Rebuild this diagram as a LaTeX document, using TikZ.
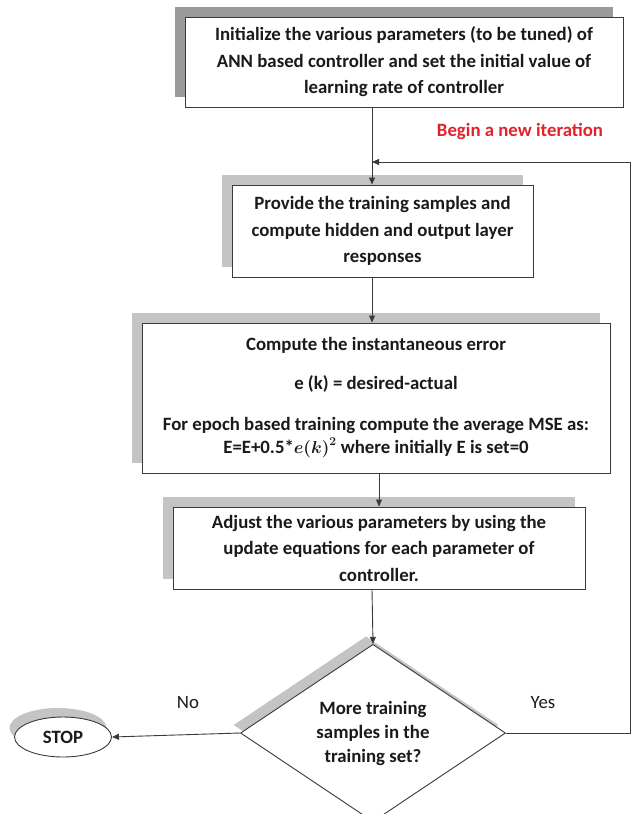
\documentclass[tikz,border=0pt]{standalone}
\usepackage{amsmath}
\usepackage{fontspec}
\setmainfont{Carlito}
\usetikzlibrary{arrows.meta,shapes.geometric,shadows}
\definecolor{fcline}{HTML}{3A3A3A}
\definecolor{fctext}{HTML}{1A1A1A}
\definecolor{fcshade}{HTML}{C4C4C4}
\definecolor{fcdark}{HTML}{9A9A9A}
\definecolor{fcred}{HTML}{E2222B}

\begin{document}
\begin{tikzpicture}[x=1pt,y=-1pt,
  box/.style={draw=fcline,line width=0.9pt,fill=white,align=center,inner sep=0pt,
    font=\fontsize{18.8}{26.5}\selectfont\bfseries,text=fctext,
    general shadow={fill=#1,shadow xshift=-10pt,shadow yshift=10pt}},
  box/.default=fcshade,
  decision/.style={diamond,draw=fcline,line width=0.9pt,fill=white,align=center,inner sep=0pt,
    font=\fontsize{18.8}{24}\selectfont\bfseries,text=fctext,
    minimum width=265pt,minimum height=161pt,
    general shadow={fill=fcshade,shadow xshift=-7pt,shadow yshift=8pt}},
  terminal/.style={ellipse,draw=fcline,line width=0.9pt,fill=white,inner sep=0pt,
    font=\fontsize{18.8}{22}\selectfont\bfseries,text=fctext,
    minimum width=97pt,minimum height=40pt,
    general shadow={fill=fcshade,shadow xshift=-5pt,shadow yshift=9pt}},
  lbl/.style={font=\fontsize{18.8}{22}\selectfont,text=fctext},
  note/.style={font=\fontsize{18.8}{22}\selectfont\bfseries,text=fcred},
  arr/.style={draw=fcline,line width=0.9pt,-{Triangle[length=7pt,width=6pt]}}]
\useasboundingbox (0,0) rectangle (633,814);

\node[box=fcdark,minimum width=438pt,minimum height=90pt] (init) at (404,62)
  {Initialize the various parameters (to be tuned) of\\
   ANN based controller and set the initial value of\\
   learning rate of controller};
\node[box,minimum width=301pt,minimum height=92pt] (prov) at (382.5,231)
  {Provide the training samples and\\
   compute hidden and output layer\\
   responses};
\node[box,minimum width=468pt,minimum height=150pt,font=\fontsize{18.8}{23}\selectfont\bfseries] (err) at (376,398)
  {Compute the instantaneous error\\[16pt]
   e (k) = desired-actual\\[18pt]
   For epoch based training compute the average MSE as:\\
   E=E+0.5*$\boldsymbol{e(k)}^{\boldsymbol{2}}$ where initially E is set=0};
\node[box,minimum width=412pt,minimum height=82pt] (adj) at (379,548)
  {Adjust the various parameters by using the\\
   update equations for each parameter of\\
   controller.};
\node[decision] (dec) at (373,733)
  {More training\\ samples in the\\ training set?};
\node[terminal] (stop) at (63,737) {STOP};

\node[note] (again) at (520,131) {Begin a new iteration};
\node[lbl] (no) at (188,703) {No};
\node[lbl] (yes) at (543,703) {Yes};

\coordinate (axa) at (372,0);
\coordinate (axb) at (379,0);
\coordinate (rejoin) at (372,162);
\coordinate (loopx) at (630,162);

\draw[arr] (init.south -| axa) -- (prov.north -| axa);
\draw[arr] (prov.south -| axa) -- (err.north -| axa);
\draw[arr] (err.south -| axb) -- (adj.north -| axb);
\draw[arr] (adj.south -| axa) -- (dec.north);
\draw[arr] (dec.west) -- (stop.east);
\draw[arr] (dec.east) -- (dec.east -| loopx) -- (loopx) -- (rejoin);
\end{tikzpicture}
\end{document}
